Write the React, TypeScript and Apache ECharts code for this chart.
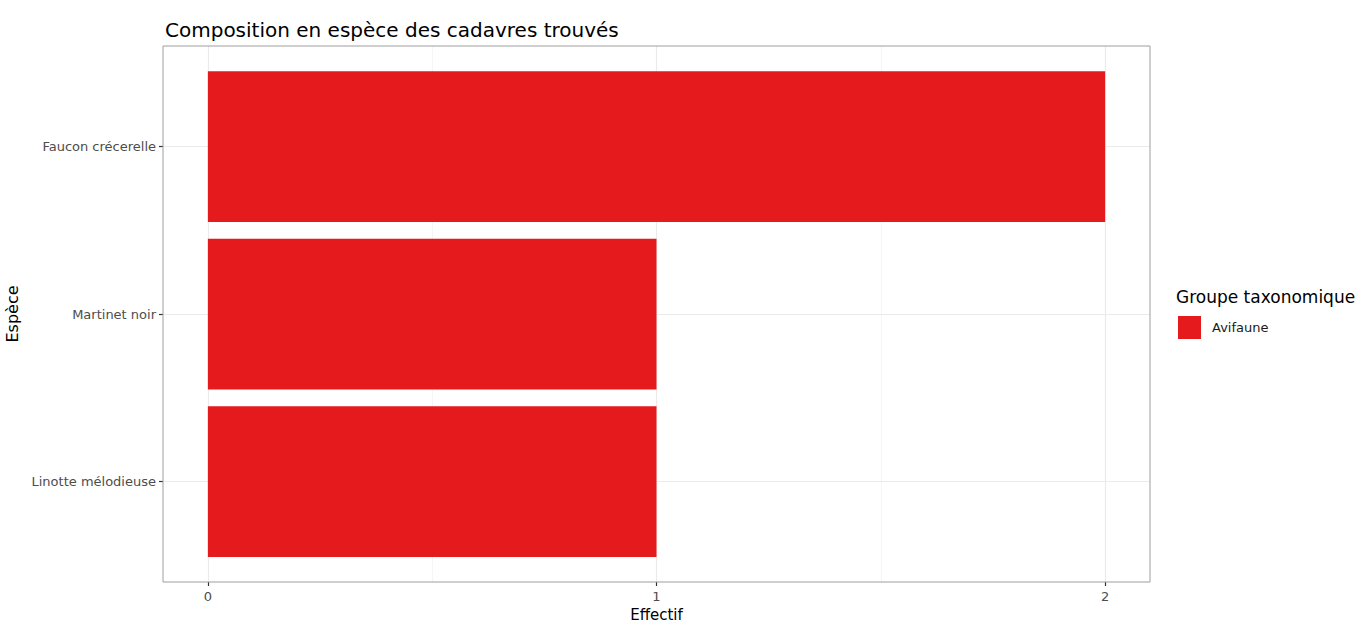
import React, { useEffect, useRef } from "react";
import * as echarts from "echarts";

const species = ["Linotte mélodieuse", "Martinet noir", "Faucon crécerelle"];
const speciesPos = [1, 2, 3];
const counts = [1, 1, 2];
const groupName = "Avifaune";
const xMajor = [0, 1, 2];
const xMinor = [0.5, 1.5];

const FONT = "DejaVu Sans";

export default function App() {
  const ref = useRef<HTMLDivElement>(null);
  useEffect(() => {
    if (!ref.current) return;
    document.body.style.margin = "0";
    const chart = echarts.init(ref.current, null, { renderer: "svg" });
    const barData = counts.map((c, i) => [c, speciesPos[i]]);
    chart.setOption({
      animation: false,
      backgroundColor: "#ffffff",
      title: {
        text: "Composition en espèce des cadavres trouvés",
        left: 160,
        top: 15,
        textStyle: { fontFamily: FONT, fontSize: 20, fontWeight: "normal", color: "#000" },
      },
      grid: {
        left: 163,
        top: 46,
        right: 207,
        bottom: 41,
        outerBoundsMode: "none",
        containLabel: false,
        show: true,
        borderColor: "#9e9e9e",
        borderWidth: 1,
        backgroundColor: "transparent",
        z: 3,
      },
      legend: {
        left: 1178,
        top: 316,
        padding: 0,
        orient: "vertical",
        itemWidth: 23,
        itemHeight: 23,
        itemGap: 6,
        icon: "rect",
        data: [groupName],
        selectedMode: false,
        textStyle: { fontFamily: FONT, fontSize: 13, color: "#1a1a1a", padding: [0, 0, 0, 6] },
      },
      graphic: [
        {
          type: "text",
          left: 1176,
          top: 288,
          style: { text: "Groupe taxonomique", fontFamily: FONT, fontSize: 17, fill: "#000" },
        },
      ],
      xAxis: {
        type: "value",
        min: -0.1,
        max: 2.1,
        name: "Effectif",
        nameLocation: "middle",
        nameGap: 22,
        nameTextStyle: { fontFamily: FONT, fontSize: 15, color: "#000" },
        axisLine: { show: false, onZero: false },
        splitLine: { show: false },
        axisTick: { show: true, customValues: xMajor, length: 4, lineStyle: { color: "#333", width: 1.2 } },
        axisLabel: {
          customValues: xMajor,
          fontFamily: FONT,
          fontSize: 13,
          color: "#4d4d4d",
          margin: 8,
        },
      },
      yAxis: {
        type: "value",
        min: 0.4,
        max: 3.6,
        name: "Espèce",
        nameLocation: "middle",
        nameGap: 138,
        nameTextStyle: { fontFamily: FONT, fontSize: 16, color: "#000" },
        axisLine: { show: false, onZero: false },
        splitLine: { show: false },
        axisTick: { show: true, customValues: speciesPos, length: 4, lineStyle: { color: "#333", width: 1.2 } },
        axisLabel: {
          customValues: speciesPos,
          fontFamily: FONT,
          fontSize: 13,
          color: "#4d4d4d",
          margin: 7,
          formatter: (v: number) => species[speciesPos.indexOf(Math.round(v))] ?? "",
        },
      },
      series: [
        {
          type: "line",
          name: "grid",
          data: [],
          z: 0,
          silent: true,
          markLine: {
            silent: true,
            symbol: "none",
            z: 0,
            label: { show: false },
            data: [
              ...xMinor.map((v) => ({ xAxis: v, lineStyle: { color: "#f2f2f2", width: 0.8, type: "solid" } })),
              ...xMajor.map((v) => ({ xAxis: v, lineStyle: { color: "#ebebeb", width: 1.2, type: "solid" } })),
              ...speciesPos.map((v) => ({ yAxis: v, lineStyle: { color: "#ebebeb", width: 1.2, type: "solid" } })),
            ],
          },
        },
        {
          type: "custom",
          name: groupName,
          z: 2,
          itemStyle: { color: "#E41A1C" },
          data: barData,
          encode: { x: 0, y: 1 },
          renderItem: (params: any, api: any) => {
            const val = api.value(0);
            const pos = api.value(1);
            const start = api.coord([0, pos]);
            const end = api.coord([val, pos]);
            const h = api.size([0, 0.9])[1];
            return {
              type: "rect",
              shape: { x: start[0], y: start[1] - h / 2, width: end[0] - start[0], height: h },
              style: { fill: "#E41A1C" },
            };
          },
        },
      ],
    });
    return () => chart.dispose();
  }, []);
  return <div ref={ref} style={{ width: 1357, height: 623 }} />;
}
